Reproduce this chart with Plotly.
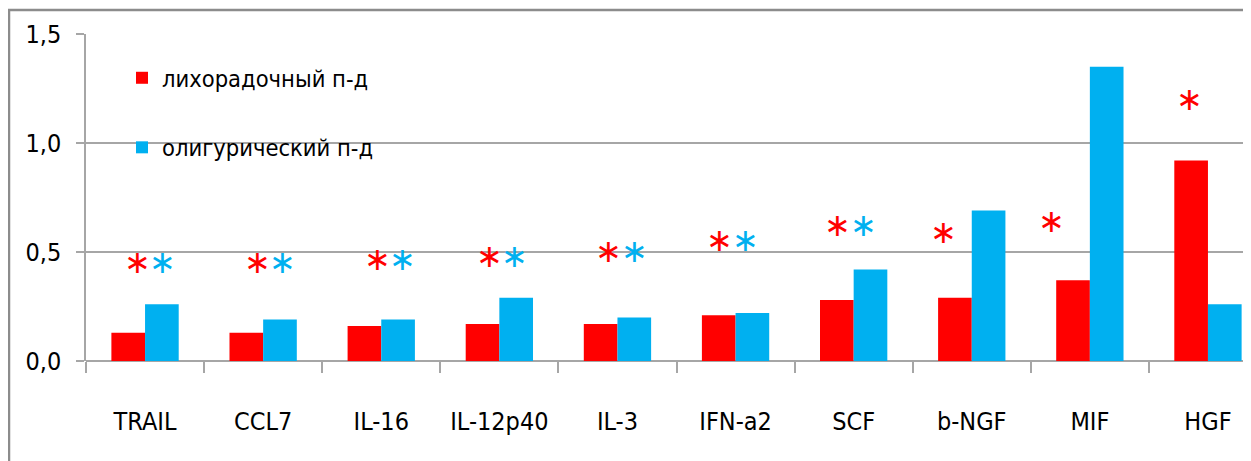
import plotly.graph_objects as go

categories = ["TRAIL", "CCL7", "IL-16", "IL-12p40", "IL-3", "IFN-a2", "SCF", "b-NGF", "MIF", "HGF"]
febrile = [0.13, 0.13, 0.16, 0.17, 0.17, 0.21, 0.28, 0.29, 0.37, 0.92]
oliguric = [0.26, 0.19, 0.19, 0.29, 0.20, 0.22, 0.42, 0.69, 1.35, 0.26]
# significance marks: level of asterisk per category (None = no mark)
star_red = [0.44, 0.44, 0.455, 0.47, 0.49, 0.54, 0.61, 0.58, 0.63, 1.19]
star_blue = [0.44, 0.44, 0.455, 0.47, 0.49, 0.54, 0.61, None, None, None]
yticks = [0.0, 0.5, 1.0, 1.5]
yticklabels = ["0,0", "0,5", "1,0", "1,5"]

RED = "#FF0000"
BLUE = "#00B0F0"
GRID = "#A6A6A6"
FONT = "Liberation Sans Narrow, DejaVu Sans Condensed, Arial Narrow, sans-serif"

# page body has an 8px default margin: figure is laid out in page coords minus 8
OFF = 8
L, T, PW, PH = 86 - OFF, 34 - OFF, 1165, 327
W, H = 1251 - OFF, 461 - OFF

fig = go.Figure()
fig.add_trace(go.Bar(x=categories, y=febrile, name="лихорадочный п-д", legendgroup="a",
                     marker=dict(color=RED, line=dict(width=0))))
fig.add_trace(go.Bar(x=categories, y=oliguric, name="олигурический п-д", legendgroup="b",
                     marker=dict(color=BLUE, line=dict(width=0))))

red_shift = [-8, -6, -4, -10, -9, -16, -16, -28, -38, -18]
blue_shift = [17, 19, 21, 15, 17, 10, 10, 0, 0, 0]
ann = []
for i, c in enumerate(categories):
    if star_red[i] is not None:
        ann.append(dict(x=c, y=star_red[i], text="∗", showarrow=False, xshift=red_shift[i], yshift=3,
                        font=dict(color=RED, size=32, family="DejaVu Sans"), yanchor="middle"))
    if star_blue[i] is not None:
        ann.append(dict(x=c, y=star_blue[i], text="∗", showarrow=False, xshift=blue_shift[i], yshift=3,
                        font=dict(color=BLUE, size=32, family="DejaVu Sans"), yanchor="middle"))

fig.update_layout(
    width=W, height=H,
    margin=dict(l=L, r=W - L - PW, t=T, b=H - T - PH, autoexpand=False),
    paper_bgcolor="white", plot_bgcolor="white",
    barmode="group", bargap=0.43, bargroupgap=0,
    font=dict(family=FONT, size=25, color="#000000"),
    annotations=ann,
    showlegend=True,
    legend=dict(x=(122 - 86) / PW, y=(361 - 56) / PH, xanchor="left", yanchor="top",
                orientation="v", tracegroupgap=36, traceorder="grouped",
                font=dict(size=23.5, family=FONT), bgcolor="rgba(0,0,0,0)"),
    shapes=[dict(type="rect", xref="paper", yref="paper",
                 x0=(9 - 86) / PW, x1=1.05, y0=-0.4, y1=1 + (34 - 10) / PH,
                 line=dict(color="#8C8C8C", width=2.5), layer="below")],
)

fig.update_xaxes(
    range=[-0.5, 9.5 - 16 / 118], automargin=False,
    showline=False, showgrid=False,
    ticks="outside", tickson="boundaries", ticklen=11, tickcolor=GRID, tickwidth=1.5,
    ticklabelstandoff=43,
    tickfont=dict(size=25, family=FONT),
)
fig.update_yaxes(
    range=[0, 1.5], tickvals=yticks, ticktext=yticklabels, automargin=False,
    showline=True, linecolor=GRID, linewidth=1.5,
    showgrid=True, gridcolor=GRID, gridwidth=2,
    zeroline=True, zerolinecolor=GRID, zerolinewidth=2,
    ticks="outside", ticklen=8, tickcolor=GRID, tickwidth=2,
    ticklabelstandoff=10,
    tickfont=dict(size=25, family=FONT),
)

fig.write_html("out.html")
